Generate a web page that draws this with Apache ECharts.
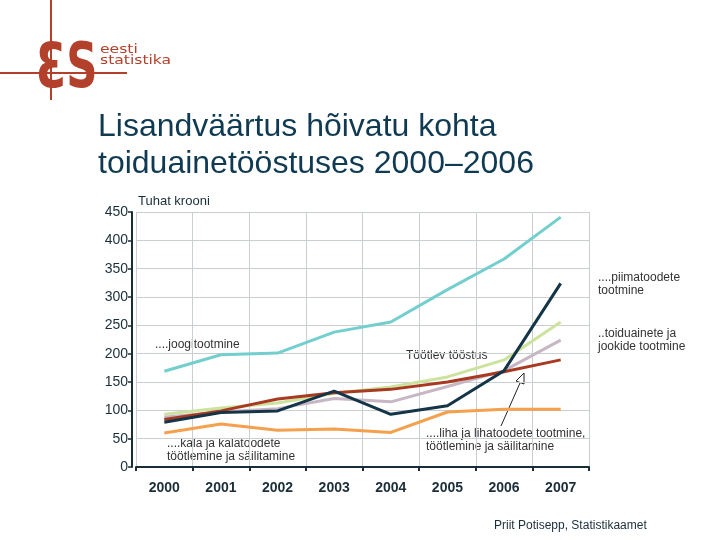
<!DOCTYPE html>
<html><head><meta charset="utf-8">
<script src="https://cdn.jsdelivr.net/npm/echarts@6/dist/echarts.min.js"></script>
<style>html,body{margin:0;padding:0;background:#fff}#c{width:720px;height:540px}</style>
</head><body><div id="c"></div>
<script>
const years = ['2000','2001','2002','2003','2004','2005','2006','2007'];
const yTicks = [0,50,100,150,200,250,300,350,400,450];
const joogi = [169,198,201,238,256,313,367,441];
const piima = [79,96,99,134,93,108,170,324];
const toidu = [93,104,113,130,141,159,189,256];
const liha = [88,97,103,121,115,142,170,224];
const tootlev = [84,99,120,131,137,150,168,189];
const kala = [60,76,65,67,61,97,102,102];

const chart = echarts.init(document.getElementById('c'));
const F = 'Liberation Sans, Arial, sans-serif';
const logoRed = '#b3402a';
const dark = '#1a2e3a';
function ser(name, data, color, z){
  return {name, type:'line', data, symbol:'none', z, lineStyle:{color, width:3}, itemStyle:{color}};
}
chart.setOption({
  animation:false,
  grid:{left:136,right:131,top:212,bottom:73},
  xAxis:{type:'category',data:years,boundaryGap:true,offset:6,
    axisLine:{lineStyle:{color:dark,width:2}},
    axisTick:{show:true,length:4,lineStyle:{color:dark,width:2}},
    axisLabel:{color:dark,fontFamily:F,fontSize:14,fontWeight:'bold',margin:8},
    splitLine:{show:true,lineStyle:{color:'#c9ced1',width:1}}},
  yAxis:{type:'value',min:0,max:450,interval:50,offset:4,
    axisLine:{show:true,lineStyle:{color:dark,width:2}},
    axisTick:{show:true,length:4,lineStyle:{color:dark,width:1.5}},
    axisLabel:{color:dark,fontFamily:F,fontSize:14,margin:4,
      formatter:v=>yTicks.includes(v)?String(v):''},
    splitLine:{show:true,lineStyle:{color:'#c9ced1',width:1}}},
  series:[
    ser('joogitootmine',joogi,'#72cfcd',2),
    ser('kala',kala,'#f4a04c',3),
    ser('toidu',toidu,'#cce39d',4),
    ser('liha',liha,'#c7b7c4',5),
    ser('tootlev',tootlev,'#a93a22',6),
    ser('piima',piima,'#143447',7)
  ],
  graphic:[
    {type:'line',shape:{x1:51,y1:0,x2:51,y2:100},style:{stroke:logoRed,lineWidth:2}},
    {type:'line',shape:{x1:0,y1:73,x2:127,y2:73},style:{stroke:logoRed,lineWidth:2}},
    {type:'text',x:36,y:40,scaleX:0.7,style:{text:'ƐS',font:'bold 62px DejaVu Sans',fill:logoRed}},
    {type:'text',x:100,y:44,scaleX:1.2,style:{text:'eesti\nstatistika',font:'13px DejaVu Sans',lineHeight:11,fill:logoRed}},
    {type:'text',left:98,top:109,style:{text:'Lisandväärtus hõivatu kohta\ntoiduainetööstuses 2000–2006',font:'32px '+F,lineHeight:37,fill:'#0f3a52'}},
    {type:'text',left:138,top:195,style:{text:'Tuhat krooni',font:'13px '+F,fill:dark}},
    {type:'text',left:155,top:339,style:{text:'....joogitootmine',font:'12px '+F,fill:'#333'}},
    {type:'text',left:598,top:271,style:{text:'....piimatoodete\ntootmine',font:'12px '+F,lineHeight:13,fill:'#333'}},
    {type:'text',left:598,top:327,style:{text:'..toiduainete ja\njookide tootmine',font:'12px '+F,lineHeight:13,fill:'#333'}},
    {type:'text',left:406,top:350,style:{text:'Töötlev tööstus',font:'12px '+F,fill:'#333'}},
    {type:'text',left:167,top:437,style:{text:'....kala ja kalatoodete\ntöötlemine ja säilitamine',font:'12px '+F,lineHeight:13,fill:'#333'}},
    {type:'text',left:426,top:427,style:{text:'....liha ja lihatoodete tootmine,\ntöötlemine ja säilitamine',font:'12px '+F,lineHeight:13,fill:'#333'}},
    {type:'line',shape:{x1:501,y1:426,x2:520,y2:383},style:{stroke:'#222',lineWidth:1}},
    {type:'polygon',shape:{points:[[524,373],[516,381],[524,384]]},style:{fill:'#fff',stroke:'#222',lineWidth:1}},
    {type:'text',left:494,top:520,style:{text:'Priit Potisepp, Statistikaamet',font:'12px '+F,fill:dark}}
  ]
});
</script></body></html>
